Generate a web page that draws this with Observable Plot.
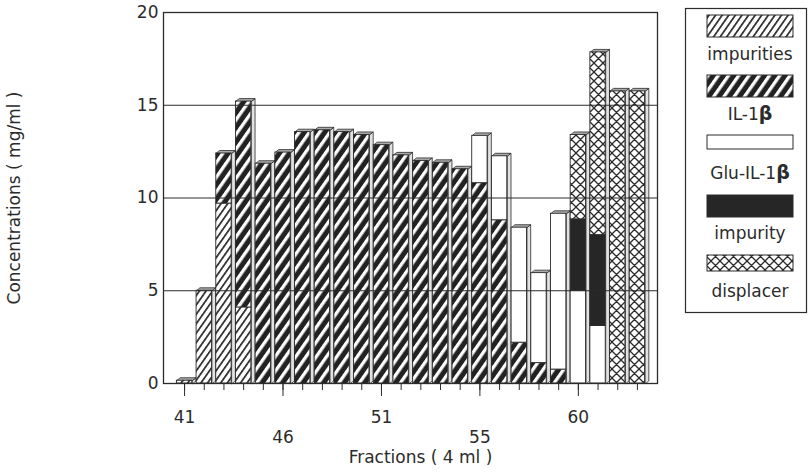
<!DOCTYPE html>
<html><head><meta charset="utf-8">
<script src="https://cdn.jsdelivr.net/npm/d3@7"></script>
<script src="https://cdn.jsdelivr.net/npm/@observablehq/plot@0.6"></script>
<style>
body{margin:0;background:#fff;}
#chart{position:relative;width:809px;height:474px;}
</style>
</head><body><div id="chart"></div>
<script>
// ---- data ----
const fractions = [41,42,43,44,45,46,47,48,49,50,51,52,53,54,55,56,57,58,59,60,61,62,63,64];
const impurities = [0.15,5.0,9.7,4.1,0,0,0,0,0,0,0,0,0,0,0,0,0,0,0,0,0,0,0,0];
const il1b       = [0,0,2.7,11.1,11.85,12.45,13.55,13.65,13.55,13.4,12.85,12.3,12.0,11.9,11.55,10.8,8.8,2.2,1.1,0.75,0,0,0,0];
const gluIl1b    = [0,0,0,0,0,0,0,0,0,0,0,0,0,0,0,2.55,3.45,6.2,4.85,8.4,5.0,3.1,0,0];
const impurity   = [0,0,0,0,0,0,0,0,0,0,0,0,0,0,0,0,0,0,0,0,3.85,4.9,0,0];
const displacer  = [0,0,0,0,0,0,0,0,0,0,0,0,0,0,0,0,0,0,0,0,4.55,9.85,15.75,15.75];
const seriesNames = ["impurities","IL-1β","Glu-IL-1β","impurity","displacer"];
const yTicks = [0,5,10,15,20];
const gridValues = [5,10,15];
const xMajorTicks = [41,46,51,56,61];
const xMajorLabels = ["41","46","51","55","60"];

// ---- styles ----
const INK = "#2b2b2b";
const fills = {
  "impurities": "url(#pImp)",
  "IL-1β": "url(#pIl)",
  "Glu-IL-1β": "#ffffff",
  "impurity": "#262626",
  "displacer": "url(#pDisp)"
};
const HALF = 0.39, DX = 0.19, DY = 0.16;

const seriesValues = [impurities, il1b, gluIl1b, impurity, displacer];
const segs = [];
const totals = [];
fractions.forEach((f, i) => {
  let base = 0;
  seriesValues.forEach((vals, s) => {
    const v = vals[i];
    if (v > 0) { segs.push({x: f, y1: base, y2: base + v, key: seriesNames[s]}); base += v; }
  });
  totals.push({x: f, t: base});
});
const sidePts = [], topPts = [];
totals.forEach((d, i) => {
  if (d.t <= 0) return;
  const xr = d.x + HALF, xl = d.x - HALF;
  [[xr,0],[xr,d.t],[xr+DX,d.t+DY],[xr+DX,DY]].forEach(p => sidePts.push({id:i, px:p[0], py:p[1]}));
  [[xl,d.t],[xr,d.t],[xr+DX,d.t+DY],[xl+DX,d.t+DY]].forEach(p => topPts.push({id:i, px:p[0], py:p[1]}));
});

const labelOf = new Map(xMajorTicks.map((t, i) => [t, xMajorLabels[i]]));

const frontMarks = seriesNames.map(name =>
  Plot.rect(segs.filter(d => d.key === name), {
    x1: d => d.x - HALF, x2: d => d.x + HALF, y1: "y1", y2: "y2",
    fill: fills[name], stroke: INK, strokeWidth: 0.9
  })
);

const plot = Plot.plot({
  width: 809, height: 474,
  marginLeft: 163, marginRight: 152, marginTop: 12, marginBottom: 91,
  style: {fontFamily: "'DejaVu Sans', sans-serif", color: INK, background: "#fff"},
  x: {domain: [39.93, 65.02]},
  y: {domain: [0, 20]},
  marks: [
    Plot.line(sidePts, {x:"px", y:"py", z:"id", curve:"linear-closed", fill:"#e2e2e2", stroke: INK, strokeWidth: 0.8}),
    Plot.line(topPts, {x:"px", y:"py", z:"id", curve:"linear-closed", fill:"#ababab", stroke: INK, strokeWidth: 0.8}),
    ...frontMarks,
    Plot.ruleY(gridValues, {stroke: INK, strokeWidth: 1}),
    Plot.frame({stroke: INK, strokeWidth: 1.3}),
    Plot.axisY({ticks: yTicks, tickSize: 0, tickPadding: 5, fontSize: 17, label: null}),
    Plot.axisX({ticks: fractions, tickSize: 7, tickFormat: () => "", label: null, stroke: INK}),
    Plot.axisX({ticks: xMajorTicks.filter((t,i) => i % 2 === 0), tickSize: 13, tickPadding: 14, fontSize: 17, tickFormat: d => labelOf.get(d), label: null}),
    Plot.axisX({ticks: xMajorTicks.filter((t,i) => i % 2 === 1), tickSize: 13, tickPadding: 34, fontSize: 17, tickFormat: d => labelOf.get(d), label: null}),
    Plot.text(["Concentrations ( mg/ml )"], {frameAnchor: "left", textAnchor: "middle", dx: -149, rotate: -90, fontSize: 17, fill: INK}),
    Plot.text(["Fractions ( 4 ml )"], {frameAnchor: "bottom", dx: 10, dy: 79, fontSize: 17, fill: INK})
  ]
});

// patterns
const svg = d3.select(plot.tagName.toLowerCase() === "svg" ? plot : plot.querySelector("svg"));
const defs = svg.insert("defs", ":first-child");
const pImp = defs.append("pattern").attr("id","pImp").attr("patternUnits","userSpaceOnUse")
  .attr("width",5.4).attr("height",10).attr("patternTransform","rotate(35)");
pImp.append("rect").attr("width",5.4).attr("height",10).attr("fill","#fff");
pImp.append("rect").attr("width",1.7).attr("height",10).attr("fill",INK);
const pIl = defs.append("pattern").attr("id","pIl").attr("patternUnits","userSpaceOnUse")
  .attr("width",8.4).attr("height",10).attr("patternTransform","rotate(35)");
pIl.append("rect").attr("width",8.4).attr("height",10).attr("fill","#222");
pIl.append("rect").attr("width",3.3).attr("height",10).attr("fill","#fff");
const pDisp = defs.append("pattern").attr("id","pDisp").attr("patternUnits","userSpaceOnUse")
  .attr("width",9).attr("height",9);
pDisp.append("rect").attr("width",9).attr("height",9).attr("fill","#fff");
pDisp.append("path").attr("d","M0,0L9,9M9,0L0,9M-1,8L1,10M8,-1L10,1M8,10L10,8M-1,1L1,-1").attr("stroke",INK).attr("stroke-width",1.3);

// legend
const lg = svg.append("g").attr("font-size",17).attr("fill",INK);
lg.append("rect").attr("x",685.5).attr("y",8.5).attr("width",121).attr("height",304).attr("fill","none").attr("stroke",INK).attr("stroke-width",1.2);
const swY = [15,75,135,195,255], swH = [22,22,14,22,16], lbY = [60,120,179,239,297];
seriesNames.forEach((name, i) => {
  lg.append("rect").attr("x",707).attr("y",swY[i]).attr("width",86).attr("height",swH[i])
    .attr("fill", fills[name]).attr("stroke",INK).attr("stroke-width",1);
  const t = lg.append("text").attr("x",750).attr("y",lbY[i]).attr("text-anchor","middle");
  if (name.endsWith("β")) {
    t.append("tspan").text(name.slice(0,-1));
    t.append("tspan").attr("font-weight","bold").attr("font-size",19).text("β");
  } else t.text(name);
});

document.getElementById("chart").appendChild(plot);
</script>
</body></html>
